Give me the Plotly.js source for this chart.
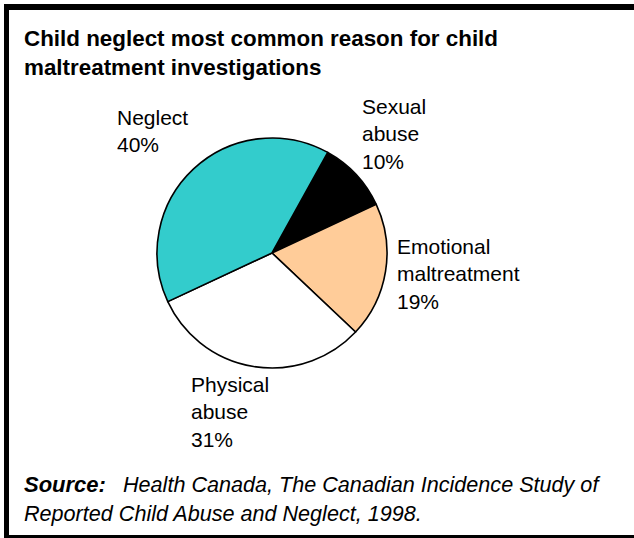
<!DOCTYPE html>
<html>
<head>
<meta charset="utf-8">
<script src="https://cdn.plot.ly/plotly-3.0.1.min.js"></script>
<style>
html,body{margin:0;padding:0;background:#fff;}
#chart{width:634px;height:538px;}
</style>
</head>
<body>
<div id="chart"></div>
<script>
// Data
var categories = ["Sexual abuse", "Emotional maltreatment", "Physical abuse", "Neglect"];
var labelLines = [["Sexual", "abuse"], ["Emotional", "maltreatment"], ["Physical", "abuse"], ["Neglect"]];
var values = [10, 19, 31, 40];
var colors = ["#000000", "#FFCC99", "#FFFFFF", "#33CCCC"];

var W = 634, H = 538;
function px(x){ return x / W; }
function py(y){ return 1 - y / H; }

var FONT = "Liberation Sans, Arial, sans-serif";

// label anchor positions (left x, vertical centre) in pixels
var labelPos = [[360, 134], [395, 273.5], [189, 412], [115, 131]];

var annotations = [];
for (var i = 0; i < categories.length; i++) {
  annotations.push({
    text: labelLines[i].join("<br>") + "<br>" + values[i] + "%",
    xref: "paper", yref: "paper",
    x: px(labelPos[i][0]), y: py(labelPos[i][1]),
    xanchor: "left", yanchor: "middle", align: "left",
    showarrow: false,
    font: {family: FONT, size: 21, color: "#000"}
  });
}
// title lines
annotations.push({
  text: "<b>Child neglect most common reason for child</b>",
  xref: "paper", yref: "paper", x: px(22), y: py(38),
  xanchor: "left", yanchor: "middle", showarrow: false,
  font: {family: FONT, size: 22.4, color: "#000"}
});
annotations.push({
  text: "<b>maltreatment investigations</b>",
  xref: "paper", yref: "paper", x: px(22), y: py(67),
  xanchor: "left", yanchor: "middle", showarrow: false,
  font: {family: FONT, size: 22.4, color: "#000"}
});
// source
annotations.push({
  text: "<b><i>Source:</i></b>",
  xref: "paper", yref: "paper", x: px(22), y: py(484),
  xanchor: "left", yanchor: "middle", showarrow: false,
  font: {family: FONT, size: 22, color: "#000"}
});
annotations.push({
  text: "<i>Health Canada, The Canadian Incidence Study of</i>",
  xref: "paper", yref: "paper", x: px(121), y: py(484),
  xanchor: "left", yanchor: "middle", showarrow: false,
  font: {family: FONT, size: 21.6, color: "#000"}
});
annotations.push({
  text: "<i>Reported Child Abuse and Neglect, 1998.</i>",
  xref: "paper", yref: "paper", x: px(22), y: py(513),
  xanchor: "left", yanchor: "middle", showarrow: false,
  font: {family: FONT, size: 21.6, color: "#000"}
});

var cx = 272, cy = 253, r = 115;

var trace = {
  type: "pie",
  labels: categories,
  values: values,
  sort: false,
  direction: "clockwise",
  rotation: 29,
  textinfo: "none",
  hoverinfo: "label+percent",
  marker: {colors: colors, line: {color: "#000", width: 1.6}},
  domain: {x: [px(cx - r), px(cx + r)], y: [py(cy + r), py(cy - r)]},
  showlegend: false
};

var shapes = [
  {type: "rect", xref: "paper", yref: "paper", x0: px(4), x1: px(9), y0: py(538), y1: py(4), fillcolor: "#000", line: {width: 0}},
  {type: "rect", xref: "paper", yref: "paper", x0: px(4), x1: 1, y0: py(10), y1: py(4), fillcolor: "#000", line: {width: 0}},
  {type: "rect", xref: "paper", yref: "paper", x0: px(4), x1: 1, y0: py(538), y1: py(535), fillcolor: "#000", line: {width: 0}}
];

var layout = {
  width: W, height: H,
  margin: {l: 0, r: 0, t: 0, b: 0},
  paper_bgcolor: "#fff",
  plot_bgcolor: "#fff",
  showlegend: false,
  annotations: annotations,
  shapes: shapes,
  font: {family: FONT}
};

Plotly.newPlot("chart", [trace], layout, {displayModeBar: false, staticPlot: true});
</script>
</body>
</html>
